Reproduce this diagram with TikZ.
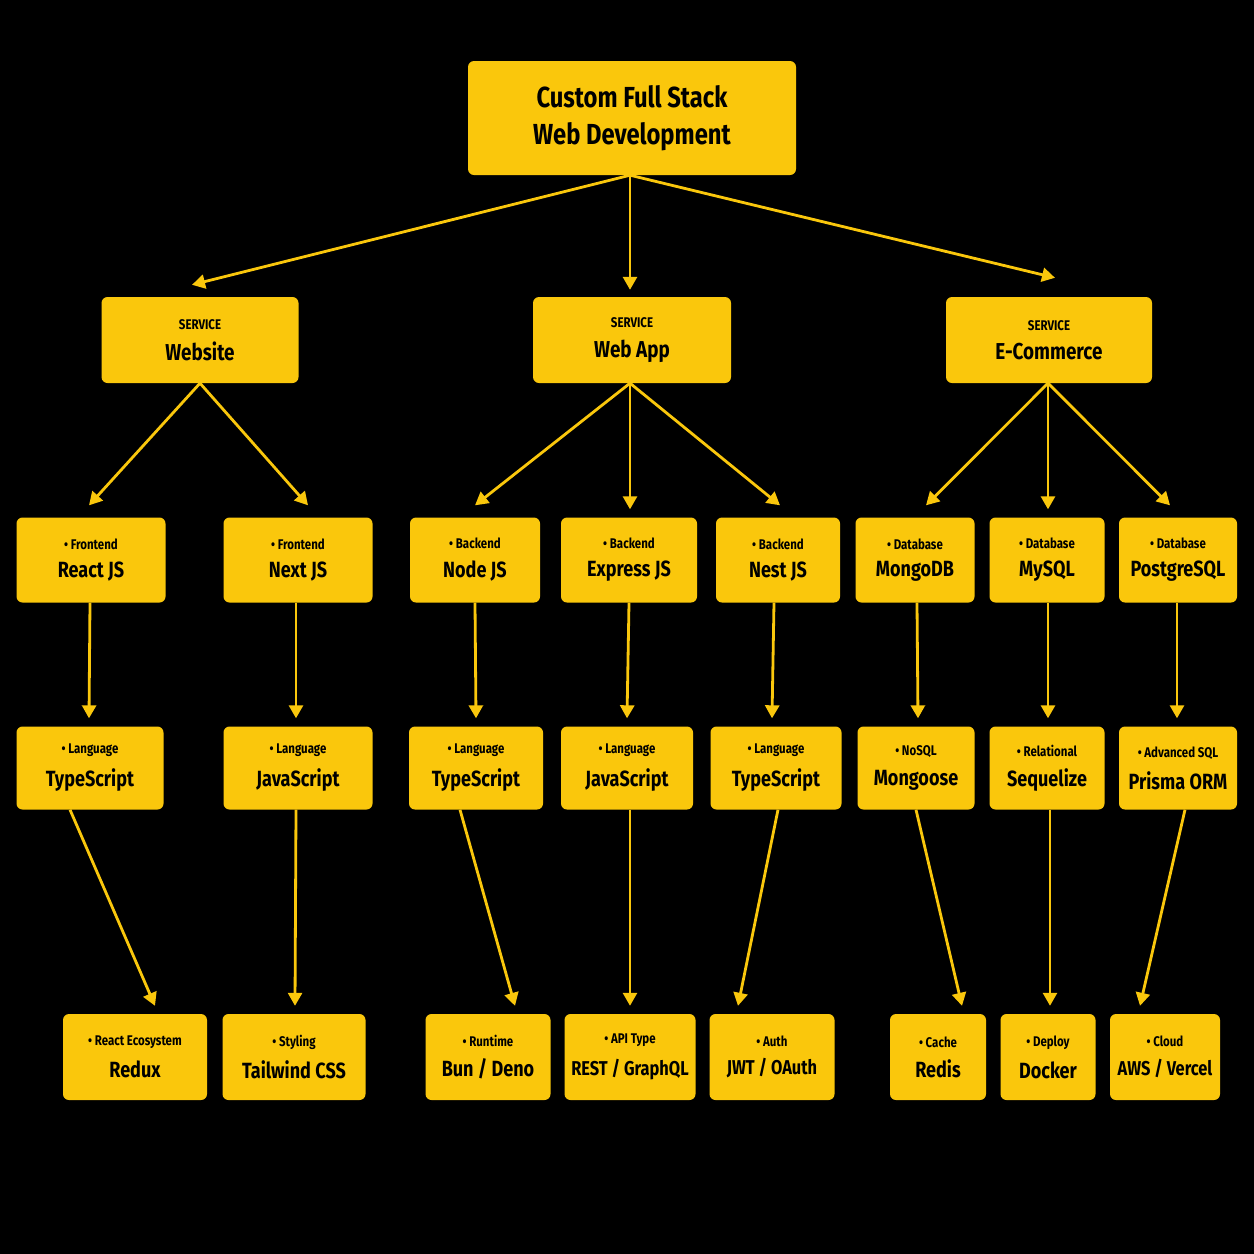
\documentclass[tikz,border=0pt]{standalone}
\usepackage{fontspec}
\setmainfont{Fira Sans}[FakeStretch=0.82]
\usetikzlibrary{arrows.meta}
\begin{document}
\begin{tikzpicture}[x=1pt,y=-1pt,
  box/.style={fill=yel,rounded corners=6pt,inner sep=0pt,align=center,text=black,font=\bfseries},
  arr/.style={draw=yel,line width=2.8pt,-{Triangle[length=13pt,width=14pt]}}]
\definecolor{yel}{HTML}{FAC70C}
\fill[black] (0,0) rectangle (1254,1254);
\useasboundingbox (0,0) rectangle (1254,1254);
\newcommand\tnode[6]{\node[box,minimum width=#4pt,minimum height=#5pt] (#1) at (#2,#3) {#6};}
\tnode{root}{632}{118}{328}{114}{\fontsize{29}{34}\selectfont Custom Full Stack\\[14pt]\fontsize{29}{34}\selectfont Web Development}
\newcommand\svc[2]{\fontsize{14}{18}\selectfont #1\\[11pt]\fontsize{23}{26}\selectfont #2}
\newcommand\itm[2]{\fontsize{14}{18}\selectfont • #1\\[11pt]\fontsize{22}{26}\selectfont #2}
\tnode{web}{200}{340}{197}{86}{\svc{SERVICE}{Website}}
\tnode{app}{632}{340}{198}{86}{\svc{SERVICE}{Web App}}
\tnode{ecom}{1049}{340}{206}{86}{\svc{SERVICE}{E-Commerce}}
% row 2
\tnode{a1}{91}{560}{149}{85}{\itm{Frontend}{React JS}}
\tnode{a2}{298}{560}{149}{85}{\itm{Frontend}{Next JS}}
\tnode{a3}{475}{560}{130}{85}{\itm{Backend}{Node JS}}
\tnode{a4}{629}{560}{136}{85}{\itm{Backend}{Express JS}}
\tnode{a5}{778}{560}{124}{85}{\itm{Backend}{Nest JS}}
\tnode{a6}{915}{560}{119}{85}{\itm{Database}{MongoDB}}
\tnode{a7}{1047}{560}{115}{85}{\itm{Database}{MySQL}}
\tnode{a8}{1178}{560}{118}{85}{\itm{Database}{PostgreSQL}}
% row 3
\tnode{b1}{90}{768}{147}{83}{\itm{Language}{TypeScript}}
\tnode{b2}{298}{768}{149}{83}{\itm{Language}{JavaScript}}
\tnode{b3}{476}{768}{134}{83}{\itm{Language}{TypeScript}}
\tnode{b4}{627}{768}{132}{83}{\itm{Language}{JavaScript}}
\tnode{b5}{776}{768}{131}{83}{\itm{Language}{TypeScript}}
\tnode{b6}{916}{768}{117}{83}{\itm{NoSQL}{Mongoose}}
\tnode{b7}{1047}{768}{115}{83}{\itm{Relational}{Sequelize}}
\tnode{b8}{1178}{768}{118}{83}{\itm{Advanced SQL}{Prisma ORM}}
% row 4
\tnode{c1}{135}{1057}{144}{86}{\itm{React Ecosystem}{Redux}}
\tnode{c2}{294}{1057}{143}{86}{\itm{Styling}{Tailwind CSS}}
\tnode{c3}{488}{1057}{125}{86}{\itm{Runtime}{Bun / Deno}}
\tnode{c4}{630}{1057}{131}{86}{\itm{API Type}{\fontsize{20}{26}\selectfont REST / GraphQL}}
\tnode{c5}{772}{1057}{125}{86}{\itm{Auth}{\fontsize{20}{26}\selectfont JWT / OAuth}}
\tnode{c6}{938}{1057}{96}{86}{\itm{Cache}{Redis}}
\tnode{c7}{1048}{1057}{95}{86}{\itm{Deploy}{Docker}}
\tnode{c8}{1165}{1057}{110}{86}{\itm{Cloud}{\fontsize{20}{26}\selectfont AWS / Vercel}}
% arrows
\draw[arr] ([xshift=-2]root.south) -- ([xshift=-8,yshift=12]web.north);
\draw[arr] ([xshift=-2]root.south) -- ([xshift=-2,yshift=7]app.north);
\draw[arr] ([xshift=-2]root.south) -- ([xshift=6,yshift=19]ecom.north);
\draw[arr] (web.south) -- ([xshift=-2,yshift=12]a1.north);
\draw[arr] (web.south) -- ([xshift=10,yshift=12]a2.north);
\draw[arr] ([xshift=-2]app.south) -- ([yshift=12]a3.north);
\draw[arr] ([xshift=-2]app.south) -- ([xshift=1,yshift=8]a4.north);
\draw[arr] ([xshift=-2]app.south) -- ([xshift=2,yshift=12]a5.north);
\draw[arr] ([xshift=-1]ecom.south) -- ([xshift=11,yshift=12]a6.north);
\draw[arr] ([xshift=-1]ecom.south) -- ([xshift=1,yshift=8]a7.north);
\draw[arr] ([xshift=-1]ecom.south) -- ([xshift=-8,yshift=12]a8.north);
\foreach \i/\d in {1/-1,2/-2,3/0,4/0,5/-4,6/2,7/1,8/-1}{
  \draw[arr] ([xshift=\d]a\i.south) -- ([xshift=\d,yshift=8]b\i.north);}
\draw[arr] ([xshift=-20]b1.south) -- ([xshift=20,yshift=8]c1.north);
\draw[arr] ([xshift=-2]b2.south) -- ([xshift=1,yshift=8]c2.north);
\draw[arr] ([xshift=-16]b3.south) -- ([xshift=27,yshift=8]c3.north);
\draw[arr] ([xshift=3]b4.south) -- ([xshift=0,yshift=8]c4.north);
\draw[arr] ([xshift=2]b5.south) -- ([xshift=-34,yshift=8]c5.north);
\draw[arr] ([xshift=0]b6.south) -- ([xshift=24,yshift=8]c6.north);
\draw[arr] ([xshift=3]b7.south) -- ([xshift=2,yshift=8]c7.north);
\draw[arr] ([xshift=7]b8.south) -- ([xshift=-25,yshift=8]c8.north);
\end{tikzpicture}
\end{document}
